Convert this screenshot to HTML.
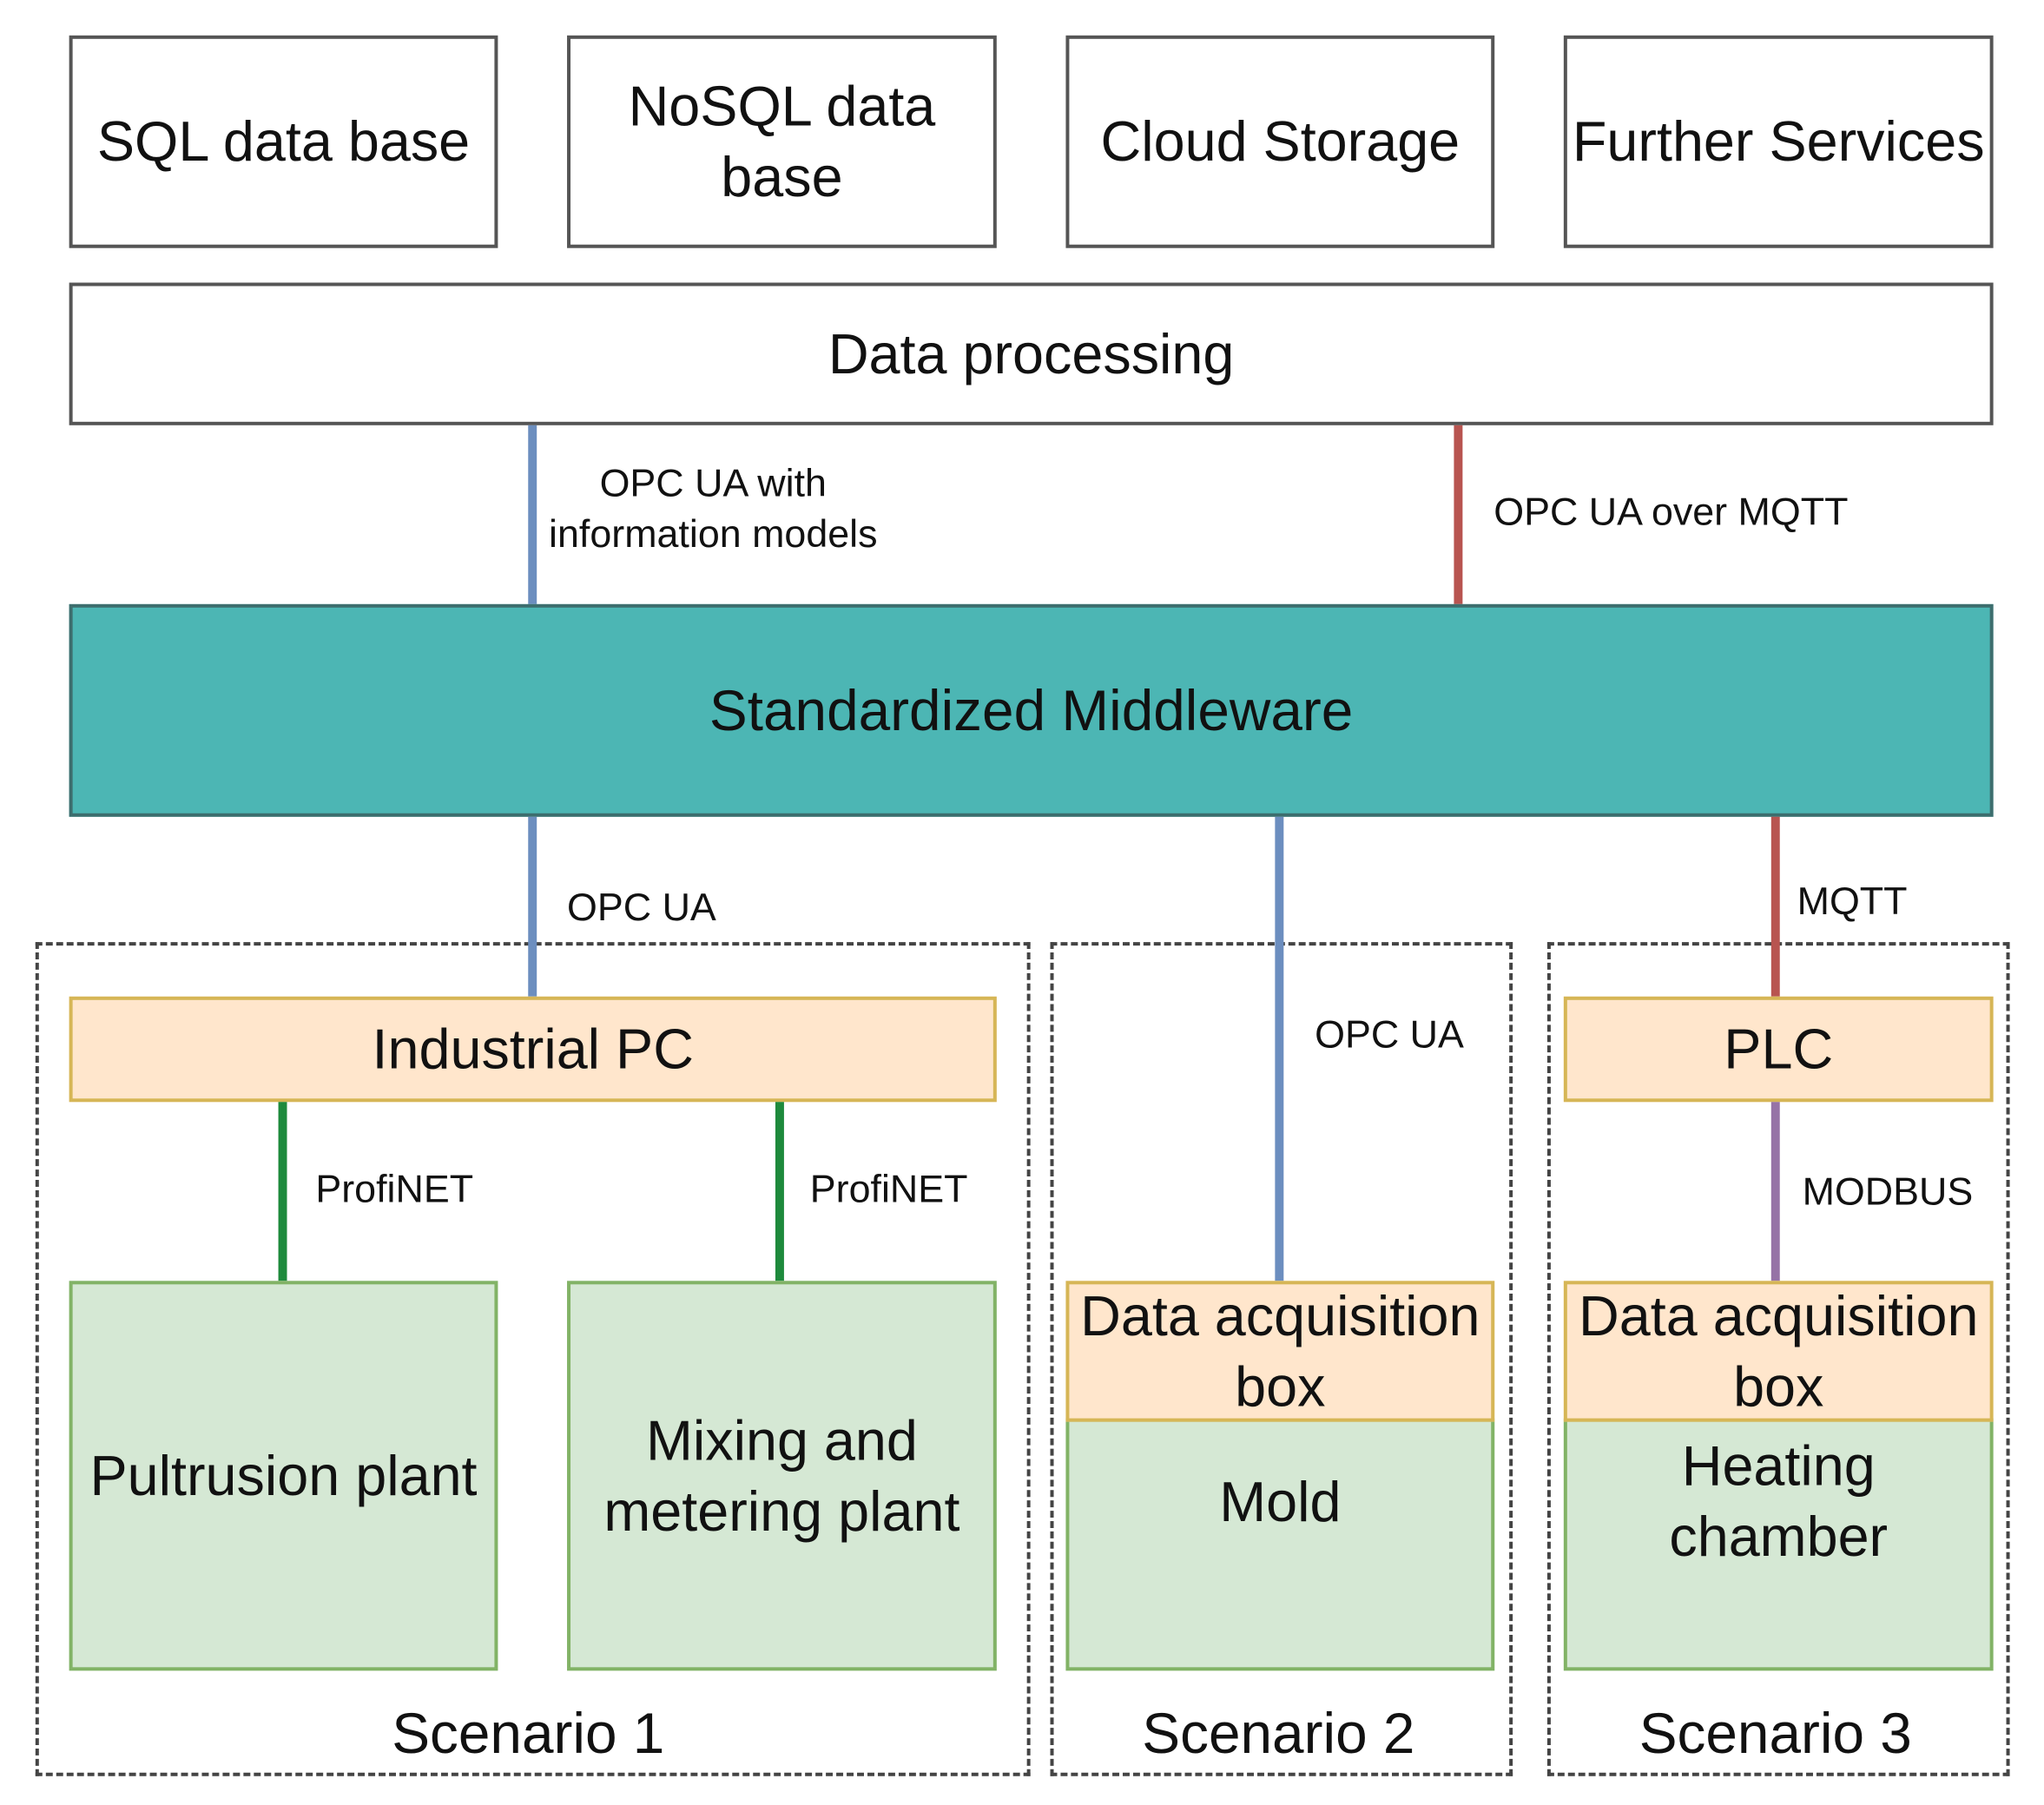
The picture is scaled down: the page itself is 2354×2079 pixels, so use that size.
<!DOCTYPE html>
<html><head><meta charset="utf-8"><style>
html,body{margin:0;padding:0;background:#fff}
body{width:2354px;height:2079px;position:relative;overflow:hidden;font-family:"Liberation Sans",Arial,sans-serif;color:#111}
#w{position:absolute;left:0;top:0;width:2354px;height:2079px;transform:scale(0.9955);transform-origin:0 0}
.b{position:absolute;box-sizing:border-box;border:4px solid #555;background:#fff;display:flex;align-items:center;justify-content:center;text-align:center;font-size:65px;line-height:82px}
.o{background:#ffe6cc;border-color:#d6b656}
.g{background:#d5e8d4;border-color:#82b366}
.l{position:absolute;width:10px}
.t{position:absolute;font-size:45px;white-space:nowrap;transform:translate(0,-50%)}
.c{position:absolute;font-size:45px;text-align:center;line-height:1.3}
.d{position:absolute;box-sizing:border-box;border:4px dashed #444}
.s{position:absolute;font-size:66px;transform:translate(-50%,-50%);white-space:nowrap}
</style></head><body><div id="w">
<div class="d" style="left:41px;top:1090px;width:1151px;height:965px"></div>
<div class="d" style="left:1215px;top:1090px;width:535px;height:965px"></div>
<div class="d" style="left:1790px;top:1090px;width:535px;height:965px"></div>

<div class="b" style="left:80px;top:41px;width:496px;height:246px">SQL data base</div>
<div class="b" style="left:656px;top:41px;width:497px;height:246px">NoSQL data<br>base</div>
<div class="b" style="left:1233px;top:41px;width:496px;height:246px">Cloud Storage</div>
<div class="b" style="left:1809px;top:41px;width:497px;height:246px;white-space:nowrap">Further Services</div>
<div class="b" style="left:80px;top:327px;width:2226px;height:165px">Data processing</div>

<div class="l" style="left:611px;top:492px;height:207px;background:#6c8ebf"></div>
<div class="l" style="left:1682px;top:492px;height:207px;background:#b85450"></div>
<div class="c" style="left:575px;top:530px;width:500px">OPC UA with<br>information models</div>
<div class="t" style="left:1728px;top:592px">OPC UA over MQTT</div>

<div class="b" style="left:80px;top:699px;width:2226px;height:246px;background:#4cb6b4;border-color:#3d6e6e;font-size:66px">Standardized Middleware</div>

<div class="l" style="left:611px;top:945px;height:208px;background:#6c8ebf"></div>
<div class="l" style="left:1475px;top:945px;height:537px;background:#6c8ebf"></div>
<div class="l" style="left:2049px;top:945px;height:208px;background:#b85450"></div>
<div class="t" style="left:656px;top:1050px">OPC UA</div>
<div class="t" style="left:1521px;top:1197px">OPC UA</div>
<div class="t" style="left:2079px;top:1043px">MQTT</div>

<div class="b o" style="left:80px;top:1153px;width:1073px;height:122px">Industrial PC</div>
<div class="b o" style="left:1809px;top:1153px;width:497px;height:122px">PLC</div>

<div class="l" style="left:322px;top:1275px;height:207px;background:#1e8a3c"></div>
<div class="l" style="left:897px;top:1275px;height:207px;background:#1e8a3c"></div>
<div class="l" style="left:2049px;top:1275px;height:207px;background:#9673a6"></div>
<div class="t" style="left:365px;top:1376px">ProfiNET</div>
<div class="t" style="left:937px;top:1376px">ProfiNET</div>
<div class="t" style="left:2085px;top:1379px">MODBUS</div>

<div class="b g" style="left:80px;top:1482px;width:496px;height:451px;white-space:nowrap">Pultrusion plant</div>
<div class="b g" style="left:656px;top:1482px;width:497px;height:451px;white-space:nowrap">Mixing and<br>metering plant</div>
<div class="b g" style="left:1233px;top:1641px;width:496px;height:292px;align-items:flex-start;padding-top:52px">Mold</div>
<div class="b g" style="left:1809px;top:1641px;width:497px;height:292px;align-items:flex-start;padding-top:10px">Heating<br>chamber</div>
<div class="b o" style="left:1233px;top:1482px;width:496px;height:163px;white-space:nowrap">Data acquisition<br>box</div>
<div class="b o" style="left:1809px;top:1482px;width:497px;height:163px;white-space:nowrap">Data acquisition<br>box</div>

<div class="s" style="left:611px;top:2005px">Scenario 1</div>
<div class="s" style="left:1479px;top:2005px">Scenario 2</div>
<div class="s" style="left:2054px;top:2005px">Scenario 3</div>
</div></body></html>
